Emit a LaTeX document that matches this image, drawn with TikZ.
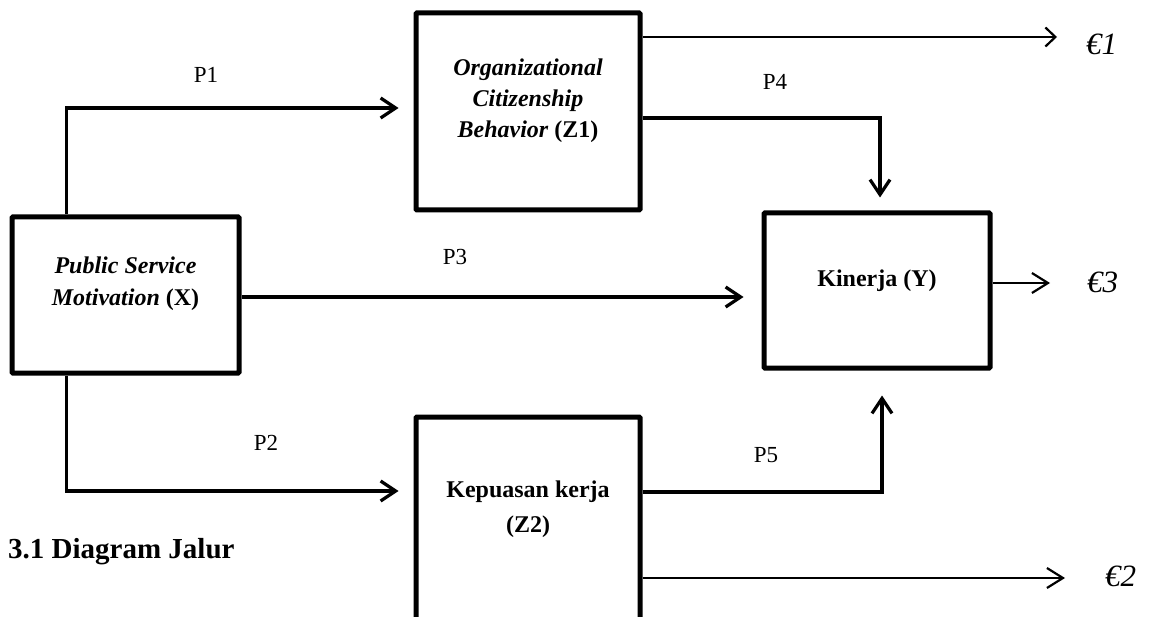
\documentclass[tikz,border=0pt]{standalone}
\usepackage{fontspec}
\setmainfont{Liberation Serif}
\usetikzlibrary{arrows.meta}
\begin{document}
\begin{tikzpicture}[x=1pt,y=-1pt,
  box/.style={draw,line width=5pt,rounded corners=1pt,inner sep=0pt},
  boxtext/.style={font=\fontsize{24}{32}\selectfont\bfseries,align=center,inner sep=0pt},
  plabel/.style={font=\fontsize{23}{27}\selectfont,inner sep=0pt},
  elabel/.style={font=\fontsize{31}{35}\selectfont\itshape,inner sep=0pt,anchor=base west},
  arr/.style={line width=3.2pt,-{Straight Barb[length=15pt,width=20pt]}},
  thinarr/.style={line width=2.2pt,-{Straight Barb[length=16pt,width=20pt]}},
  ]
\useasboundingbox (0,0) rectangle (1153,617);
% boxes
\node[box,minimum width=227pt,minimum height=156pt] (X) at (125.5,295) {};
\node[box,minimum width=224pt,minimum height=197pt] (Z1) at (528,111.5) {};
\node[box,minimum width=226pt,minimum height=155pt] (Y) at (877,290.5) {};
\node[box,minimum width=224pt,minimum height=223pt] (Z2) at (528,528.5) {};
% box texts
\node[boxtext] (tX) at (125.5,284) {\textit{Public Service}\\\textit{Motivation} (X)};
\node[boxtext,font=\fontsize{24}{31}\selectfont\bfseries] (tZ1) at (528,100.5) {\textit{Organizational}\\\textit{Citizenship}\\\textit{Behavior} (Z1)};
\node[boxtext,anchor=base] (tY) at (877,287) {Kinerja (Y)};
\node[boxtext,font=\fontsize{24}{35}\selectfont\bfseries] (tZ2) at (528,509) {Kepuasan kerja\\(Z2)};
% connectors
\draw[arr,shorten >=15pt] ([xshift=57pt]X.north west) |- ([yshift=3.5pt]Z1.west);
\draw[arr,shorten >=15pt] ([xshift=57pt]X.south west) |- ([yshift=37.5pt]Z2.west);
\draw[arr,shorten >=18pt] ([yshift=-2pt]X.east) -- ([yshift=-6.5pt]Y.west);
\draw[arr,shorten >=13pt] ([yshift=-6.5pt]Z1.east) -| ([xshift=3pt]Y.north);
\draw[arr,shorten >=25pt] ([yshift=36.5pt]Z2.east) -| ([xshift=5pt]Y.south);
% error terms
\coordinate (e1a) at (1057,37);
\coordinate (e3a) at (1050,283);
\coordinate (e2a) at (1065,578);
\draw[line width=2.2pt,-{Straight Barb[length=10pt,width=19pt]}] ([yshift=74.5pt]Z1.east) -- (e1a);
\draw[thinarr] ([yshift=7.5pt]Y.east) -- (e3a);
\draw[thinarr] ([yshift=-49.5pt]Z2.east) -- (e2a);
\node[elabel] (e1) at (1086,55) {€1};
\node[elabel] (e3) at (1087,293) {€3};
\node[elabel] (e2) at (1105,586) {€2};
% path labels
\node[plabel] (p1) at (206,75) {P1};
\node[plabel] (p2) at (266,443) {P2};
\node[plabel] (p3) at (455,257) {P3};
\node[plabel] (p4) at (775,82) {P4};
\node[plabel] (p5) at (766,455) {P5};
% caption
\node[font=\fontsize{29}{34}\selectfont\bfseries,anchor=base west,inner sep=0pt] (title) at (8,558) {3.1 Diagram Jalur};
\end{tikzpicture}
\end{document}
